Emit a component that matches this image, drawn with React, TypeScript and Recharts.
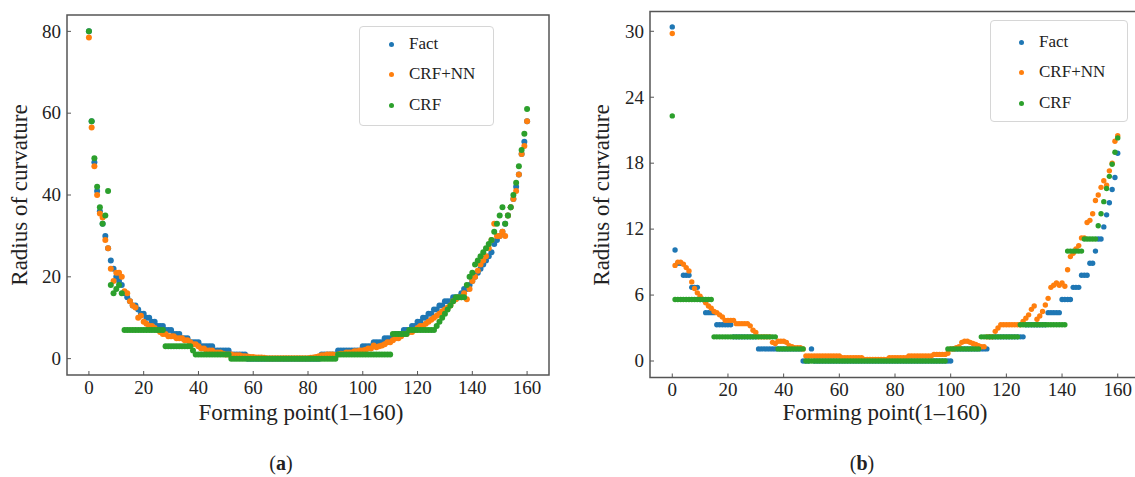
import React from 'react';
import { ScatterChart, Scatter, XAxis, YAxis, ReferenceArea, Legend } from 'recharts';

const FONT = '"Liberation Serif", "Times New Roman", serif';
const FRAME = '#555555';
const TEXT = '#222222';

const SERIES_NAMES = ['Fact', 'CRF+NN', 'CRF'];
const SERIES_COLORS = ['#1f77b4', '#ff7f0e', '#2ca02c'];

const X_LABEL = 'Forming point(1\u2013160)';
const Y_LABEL = 'Radius of curvature';

const X_TICKS = [0, 20, 40, 60, 80, 100, 120, 140, 160];
const Y_TICKS_A = [0, 20, 40, 60, 80];
const Y_TICKS_B = [0, 6, 12, 18, 24, 30];

// ---------- Panel (a) ----------
const FACT_A = [
  80, 58, 48, 41, 36, 33, 30, 27, 24, 22,
  20, 19, 18, 16, 15, 14, 13, 13, 12, 11,
  11, 10, 10, 9, 9, 8, 8, 8, 7, 7,
  7, 6, 6, 6, 5, 5, 5, 4, 4, 4,
  4, 3, 3, 3, 3, 3, 2, 2, 2, 2,
  2, 2, 1, 1, 1, 1, 1, 1, 0, 0,
  0, 0, 0, 0, 0, 0, 0, 0, 0, 0,
  0, 0, 0, 0, 0, 0, 0, 0, 0, 0,
  0, 0, 0, 0, 0, 1, 1, 1, 1, 1,
  1, 2, 2, 2, 2, 2, 2, 2, 2, 2,
  3, 3, 3, 3, 4, 4, 4, 4, 5, 5,
  5, 5, 6, 6, 6, 7, 7, 7, 8, 8,
  9, 9, 10, 10, 11, 11, 12, 12, 13, 13,
  14, 14, 14, 15, 15, 15, 16, 17, 17, 18,
  19, 20, 21, 22, 23, 24, 25, 26, 28, 29,
  30, 31, 33, 35, 37, 39, 42, 45, 50, 53,
  58,
];

const CRF_NN_A = [
  78.5, 56.5, 47, 40, 35.5, 34.5, 29, 27, 22, 19,
  21, 21, 20, 16.5, 16, 14, 13, 12.5, 10, 10.5,
  9, 8.5, 8, 8, 7.5, 7, 6.5, 6, 6, 5.5,
  5.5, 5.5, 5, 5, 5, 4.5, 4.5, 4, 3.5, 3.5,
  3, 2.5, 2.5, 2, 2, 2, 1.5, 1.5, 1.5, 1.2,
  1, 1, 1, 0.8, 0.8, 0.8, 0.6, 0.6, 0.5, 0.4,
  0.4, 0.3, 0.3, 0.3, 0.2, 0.1, 0.1, 0.1, 0.1, 0.1,
  0.1, 0.1, 0.1, 0.1, 0.1, 0.1, 0.1, 0.1, 0.1, 0.1,
  0.1, 0.2, 0.3, 0.4, 0.6, 0.8, 0.8, 1, 1, 1,
  0.8, 1, 1.2, 1.2, 1.5, 1.5, 1.5, 1.8, 1.8, 2,
  2, 2.2, 2.5, 2.5, 3.2, 2.8, 3, 3.2, 3.5, 4,
  4, 4.5, 5, 5, 5.5, 6, 6, 6.5, 6.5, 7,
  7.5, 8, 8, 8.5, 9, 9.5, 10, 10.5, 11, 11.5,
  12, 12.5, 13, 14, 14.5, 15, 15, 16, 14.5, 17,
  19, 20, 21.5, 23, 24, 25, 27, 29, 33, 30,
  30, 31, 30, 35, 37, 39, 41, 45, 50, 52,
  58,
];

const CRF_A = [
  80, 58, 49, 42, 37, 33, 35, 41, 18, 16,
  17, 18, 16, 7, 7, 7, 7, 7, 7, 7,
  7, 7, 7, 7, 7, 7, 7, 7, 3, 3,
  3, 3, 3, 3, 3, 3, 3, 3, 2, 1,
  1, 1, 1, 1, 1, 1, 1, 1, 1, 1,
  1, 1, 0, 0, 0, 0, 0, 0, 0, 0,
  0, 0, 0, 0, 0, 0, 0, 0, 0, 0,
  0, 0, 0, 0, 0, 0, 0, 0, 0, 0,
  0, 0, 0, 0, 0, 0, 0, 0, 0, 0,
  0, 1, 1, 1, 1, 1, 1, 1, 1, 1,
  1, 1, 1, 1, 1, 1, 1, 1, 1, 1,
  1, 6, 6, 6, 6, 6, 6, 7, 7, 7,
  7, 7, 7, 7, 7, 7, 7, 8, 9, 10,
  11, 12, 13, 14, 15, 15, 15, 15, 18, 20,
  21, 23, 24, 25, 26, 27, 28, 29, 31, 33,
  35, 37, 33, 35, 37, 40, 43, 47, 51, 55,
  61,
];

// ---------- Panel (b) ----------
const FACT_B = [
  30.4, 10.1, 8.9, 8.9, 7.8, 7.8, 7.8, 6.7, 6.7, 6.7,
  5.6, 5.6, 4.4, 4.4, 4.4, 4.4, 3.3, 3.3, 3.3, 3.3,
  3.3, 3.3, 2.2, 2.2, 2.2, 2.2, 2.2, 2.2, 2.2, 2.2,
  2.2, 1.1, 1.1, 1.1, 1.1, 1.1, 1.1, 1.1, 1.1, 1.1,
  1.1, 1.1, 1.1, 1.1, 1.1, 1.1, 1.1, 0, 0, 0,
  1.1, 0, 0, 0, 0, 0, 0, 0, 0, 0,
  0, 0, 0, 0, 0, 0, 0, 0, 0, 0,
  0, 0, 0, 0, 0, 0, 0, 0, 0, 0,
  0, 0, 0, 0, 0, 0, 0, 0, 0, 0,
  0, 0, 0, 0, 0, 0, 0, 0, 0, 0,
  0, 1.1, 1.1, 1.1, 1.1, 1.1, 1.1, 1.1, 1.1, 1.1,
  1.1, 1.1, 1.1, 1.1, 2.2, 2.2, 2.2, 2.2, 2.2, 2.2,
  2.2, 2.2, 2.2, 2.2, 2.2, 2.2, 2.2, 3.3, 3.3, 3.3,
  3.3, 3.3, 3.3, 3.3, 3.3, 4.4, 4.4, 4.4, 4.4, 4.4,
  5.6, 5.6, 5.6, 5.6, 6.7, 6.7, 6.7, 7.8, 7.8, 7.8,
  8.9, 8.9, 10.0, 11.1, 11.1, 12.2, 13.3, 14.4, 15.6, 16.7,
  18.9,
];

const CRF_NN_B = [
  29.8, 8.7, 9.0, 9.0, 8.8, 8.5, 8.2, 7.2, 6.6, 6.2,
  5.9, 5.6, 5.3, 5.0, 4.8, 4.5, 4.4, 4.2, 4.0, 3.7,
  3.7, 3.7, 3.7, 3.4, 3.4, 3.4, 3.4, 3.4, 3.2, 2.8,
  2.6, 2.2, 2.2, 2.2, 2.2, 2.2, 1.7, 1.6, 1.8, 1.8,
  1.8, 1.7, 1.4, 1.3, 1.2, 1.2, 1.2, 1.1, 0.45, 0.45,
  0.45, 0.45, 0.45, 0.45, 0.45, 0.45, 0.45, 0.45, 0.45, 0.45,
  0.45, 0.3, 0.3, 0.3, 0.3, 0.3, 0.3, 0.3, 0.3, 0.15,
  0.15, 0.15, 0.15, 0.15, 0.15, 0.15, 0.15, 0.15, 0.3, 0.3,
  0.3, 0.3, 0.3, 0.3, 0.3, 0.45, 0.45, 0.45, 0.45, 0.45,
  0.45, 0.45, 0.45, 0.45, 0.6, 0.6, 0.6, 0.6, 0.6, 0.7,
  1.1, 1.1, 1.2, 1.3, 1.7, 1.8, 1.8, 1.7, 1.6, 1.5,
  1.4, 1.3, 1.3, 2.2, 2.2, 2.2, 2.7, 3.0, 3.3, 3.3,
  3.3, 3.3, 3.3, 3.3, 3.3, 3.3, 3.6, 3.9, 4.2, 4.7,
  5.0, 3.8, 4.1, 4.5, 5.1, 5.7, 6.7, 6.9, 7.1, 6.9,
  7.1, 6.8, 8.3, 9.5, 9.8, 10.2, 10.5, 11.2, 11.2, 12.6,
  12.8, 13.4, 14.6, 15.1, 15.8, 16.4, 16.0, 17.3, 18.0, 20.0,
  20.5,
];

const CRF_B = [
  22.3, 5.6, 5.6, 5.6, 5.6, 5.6, 5.6, 5.6, 5.6, 5.6,
  5.6, 5.6, 5.6, 5.6, 5.6, 2.2, 2.2, 2.2, 2.2, 2.2,
  2.2, 2.2, 2.2, 2.2, 2.2, 2.2, 2.2, 2.2, 2.2, 2.2,
  2.2, 2.2, 2.2, 2.2, 2.2, 2.2, 2.2, 2.2, 1.1, 1.1,
  1.1, 1.1, 1.1, 1.1, 1.1, 1.1, 1.1, 1.1, 0, 0,
  0, 0, 0, 0, 0, 0, 0, 0, 0, 0,
  0, 0, 0, 0, 0, 0, 0, 0, 0, 0,
  0, 0, 0, 0, 0, 0, 0, 0, 0, 0,
  0, 0, 0, 0, 0, 0, 0, 0, 0, 0,
  0, 0, 0, 0, 0, 0, 0, 0, 0, 1.1,
  1.1, 1.1, 1.1, 1.1, 1.1, 1.1, 1.1, 1.1, 1.1, 1.1,
  1.1, 2.2, 2.2, 2.2, 2.2, 2.2, 2.2, 2.2, 2.2, 2.2,
  2.2, 2.2, 2.2, 2.2, 2.2, 3.3, 3.3, 3.3, 3.3, 3.3,
  3.3, 3.3, 3.3, 3.3, 3.3, 3.3, 3.3, 3.3, 3.3, 3.3,
  3.3, 3.3, 10.0, 10.0, 10.0, 10.0, 10.0, 10.0, 11.1, 11.1,
  11.1, 11.1, 11.1, 12.3, 13.4, 14.5, 15.7, 16.8, 17.9, 19.0,
  20.3,
];

const toPoints = (vals: number[]) => vals.map((y, i) => ({ x: i, y }));

const AXIS_H = 30;
const AXIS_W = 40;

type PanelProps = {
  left: number;
  width: number;
  plot: { top: number; right: number; bottom: number; left: number };
  yDomain: [number, number];
  yTicks: number[];
  series: number[][];
  dotR: number;
  legend: { left: number; top: number; width: number; height: number; dotX: number; textX: number; rows: number[] };
};

const renderXTick = (props: any) => {
  const { x, y, payload } = props;
  return (
    <g>
      <line x1={x} x2={x} y1={y} y2={y - 4} stroke={FRAME} strokeWidth={1} />
      <text x={x} y={y + 18.5} textAnchor="middle" fontSize={19} fontFamily={FONT} fill={TEXT}>
        {payload.value}
      </text>
    </g>
  );
};

const renderYTick = (props: any) => {
  const { x, y, payload } = props;
  return (
    <g>
      <line x1={x} x2={x + 4} y1={y} y2={y} stroke={FRAME} strokeWidth={1} />
      <text x={x - 6} y={y + 6.3} textAnchor="end" fontSize={19} fontFamily={FONT} fill={TEXT}>
        {payload.value}
      </text>
    </g>
  );
};

const LegendBox = (props: any) => {
  const { payload, cfg } = props;
  const items = [...(payload || [])].sort(
    (a: any, b: any) => SERIES_NAMES.indexOf(String(a.value)) - SERIES_NAMES.indexOf(String(b.value))
  );
  return (
    <div
      style={{
        position: 'relative',
        width: cfg.width,
        height: cfg.height,
        border: '1px solid #d6d6d6',
        borderRadius: 4,
        boxSizing: 'border-box',
        background: 'rgba(255,255,255,0.85)',
        fontFamily: FONT,
      }}
    >
      {items.map((e: any, i: number) => (
        <React.Fragment key={String(e.value)}>
          <span
            style={{
              position: 'absolute',
              left: cfg.dotX - 2.5,
              top: cfg.rows[i] - 2.5,
              width: 5,
              height: 5,
              borderRadius: '50%',
              background: e.color,
            }}
          />
          <span
            style={{
              position: 'absolute',
              left: cfg.textX,
              top: cfg.rows[i] - 10,
              fontSize: 17,
              lineHeight: '20px',
              color: TEXT,
              whiteSpace: 'nowrap',
            }}
          >
            {e.value}
          </span>
        </React.Fragment>
      ))}
    </div>
  );
};

const Panel = ({ left, width, plot, yDomain, yTicks, series, dotR, legend }: PanelProps) => {
  const margin = {
    top: plot.top,
    right: plot.right,
    bottom: plot.bottom - AXIS_H,
    left: plot.left - AXIS_W,
  };
  return (
    <div style={{ position: 'absolute', left, top: 0 }}>
      <ScatterChart width={width} height={477} margin={margin}>
        <XAxis
          type="number"
          dataKey="x"
          domain={[-8, 168]}
          ticks={X_TICKS}
          interval={0}
          allowDataOverflow
          height={AXIS_H}
          tickSize={0}
          tickMargin={0}
          axisLine={false}
          tickLine={false}
          tick={renderXTick}
        />
        <YAxis
          type="number"
          dataKey="y"
          domain={yDomain}
          ticks={yTicks}
          interval={0}
          allowDataOverflow
          width={AXIS_W}
          tickSize={0}
          tickMargin={0}
          axisLine={false}
          tickLine={false}
          tick={renderYTick}
        />
        <ReferenceArea
          x1={-8}
          x2={168}
          y1={yDomain[0]}
          y2={yDomain[1]}
          fill="none"
          fillOpacity={0}
          stroke={FRAME}
          strokeWidth={1.5}
          ifOverflow="visible"
        />
        {series.map((vals, i) => (
          <Scatter
            key={SERIES_NAMES[i]}
            name={SERIES_NAMES[i]}
            data={toPoints(vals)}
            fill={SERIES_COLORS[i]}
            isAnimationActive={false}
            shape={(p: any) => <circle cx={p.cx} cy={p.cy} r={dotR} fill={SERIES_COLORS[i]} />}
          />
        ))}
        <Legend
          layout="horizontal"
          verticalAlign="middle"
          align="center"
          wrapperStyle={{ left: legend.left, top: legend.top, width: legend.width, height: legend.height }}
          content={(p: any) => <LegendBox payload={p.payload} cfg={legend} />}
        />
      </ScatterChart>
    </div>
  );
};

const abs = (x: number, y: number, extra: React.CSSProperties = {}): React.CSSProperties => ({
  position: 'absolute',
  left: x,
  top: y,
  transform: 'translate(-50%, -50%)',
  whiteSpace: 'nowrap',
  fontFamily: FONT,
  color: TEXT,
  ...extra,
});

export default function App() {
  return (
    <div
      style={{
        position: 'fixed',
        left: 0,
        top: 0,
        width: 1135,
        height: 477,
        overflow: 'hidden',
        background: '#ffffff',
        fontFamily: FONT,
      }}
    >
      <Panel
        left={0}
        width={570}
        plot={{ top: 15, right: 21, bottom: 102, left: 67 }}
        yDomain={[-4, 84]}
        yTicks={Y_TICKS_A}
        series={[FACT_A, CRF_NN_A, CRF_A]}
        dotR={3}
        legend={{ left: 359, top: 26, width: 135, height: 100, dotX: 31, textX: 49, rows: [17, 47, 78] }}
      />
      <Panel
        left={570}
        width={580}
        plot={{ top: 11.5, right: 10, bottom: 99.5, left: 80 }}
        yDomain={[-1.5, 31.8]}
        yTicks={Y_TICKS_B}
        series={[FACT_B, CRF_NN_B, CRF_B]}
        dotR={2.7}
        legend={{ left: 420, top: 20, width: 138, height: 102, dotX: 30, textX: 48, rows: [21, 51, 82] }}
      />

      <div style={abs(20, 195, { fontSize: 23, transform: 'translate(-50%, -50%) rotate(-90deg)' })}>{Y_LABEL}</div>
      <div style={abs(602, 195, { fontSize: 23, transform: 'translate(-50%, -50%) rotate(-90deg)' })}>{Y_LABEL}</div>

      <div style={abs(301, 413, { fontSize: 23 })}>{X_LABEL}</div>
      <div style={abs(885, 413, { fontSize: 23 })}>{X_LABEL}</div>

      <div style={abs(281, 463, { fontSize: 20 })}>
        (<b>a</b>)
      </div>
      <div style={abs(862, 463, { fontSize: 20 })}>
        (<b>b</b>)
      </div>
    </div>
  );
}
